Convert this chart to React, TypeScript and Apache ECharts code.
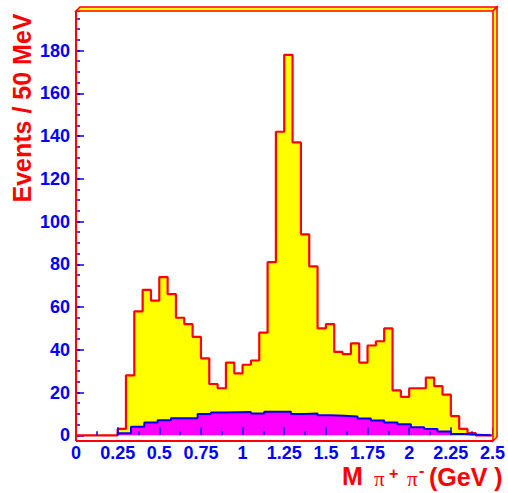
import React, { useEffect, useRef } from "react";
import * as echarts from "echarts";

// ---- data ----
const dataBinStart = 0;
const dataBinWidth = 0.05;
// Events / 50 MeV, bins from 0.00 to 2.50 GeV
const dataCounts = [
  0, 0, 0, 0, 0,
  3, 28, 58, 68, 63, 74, 66, 55, 52, 46,
  36, 24, 22, 34, 29, 33, 35, 48, 81, 142,
  178, 137, 94, 79, 50, 52, 39, 38, 43, 34,
  42, 44, 50, 21, 18, 22, 22, 27, 23, 19,
  9, 3, 1, 0, 0,
];
const bkgBinStart = 0.25;
const bkgBinWidth = 0.08;
const bkgValues = [
  1, 4, 6, 7, 8, 8, 10, 10.7, 10.8, 10.9, 10.2, 11, 11, 10,
  10.2, 9.4, 9.1, 8.8, 7.9, 6.9, 6, 5.2, 3.8, 2.9, 1.8, 0.6, 0.3, 0,
];
const xMin = 0;
const xMax = 2.5;
const xStep = 0.25;
const yMin = 0;
const yMax = 198.5;
const yStep = 20;
const yMinorStep = 5;

const FONT = "'Liberation Sans', Arial, Helvetica, sans-serif";
const SERIF = "'Liberation Serif', 'Times New Roman', serif";
const RED = "#ff0000";
const BLUE = "#0000ff";
const YELLOW = "#ffff00";
const MAGENTA = "#ff00ff";

function stepPoints(start: number, width: number, values: number[], leadZero: boolean) {
  const pts: number[][] = [];
  if (leadZero) pts.push([start, 0]);
  values.forEach((v, i) => pts.push([+(start + i * width).toFixed(4), v]));
  pts.push([+(start + values.length * width).toFixed(4), 0]);
  return pts;
}

export default function App() {
  const ref = useRef<HTMLDivElement>(null);
  useEffect(() => {
    document.body.style.margin = "0";
    if (!ref.current) return;
    const chart = echarts.init(ref.current, undefined, { renderer: "svg" });
    const tickStyle = { color: BLUE, width: 1.5 };
    chart.setOption({
      animation: false,
      grid: { left: 76, right: 15, top: 11, bottom: 57.7, show: false },
      xAxis: [
        {
          type: "value",
          min: xMin,
          max: xMax,
          interval: xStep,
          offset: 5.7,
          z: 5,
          axisLine: { show: false },
          splitLine: { show: false },
          axisTick: { show: true, inside: true, length: 8, lineStyle: tickStyle },
          minorTick: { show: true, splitNumber: 2, length: 4, lineStyle: tickStyle },
          axisLabel: {
            color: BLUE,
            fontSize: 18,
            lineHeight: 15,
            fontWeight: "bold",
            fontFamily: FONT,
            margin: 4,
          },
        },
      ],
      yAxis: [
        {
          type: "value",
          min: yMin,
          max: yMax,
          interval: yStep,
          position: "left",
          axisLine: { show: false },
          splitLine: { show: false },
          axisTick: { show: true, inside: true, length: 8, lineStyle: tickStyle },
          axisLabel: {
            color: BLUE,
            fontSize: 18,
            fontWeight: "bold",
            fontFamily: FONT,
            margin: 6,
            showMaxLabel: false,
          },
        },
        {
          type: "value",
          min: yMin,
          max: yMax,
          interval: yMinorStep,
          position: "left",
          offset: 0,
          axisLine: { show: false },
          splitLine: { show: false },
          axisTick: { show: true, inside: true, length: 4, lineStyle: tickStyle },
          axisLabel: { show: false },
        },
      ],
      series: [
        {
          type: "line",
          step: "end",
          symbol: "none",
          clip: false,
          data: stepPoints(dataBinStart, dataBinWidth, dataCounts, false),
          lineStyle: { color: RED, width: 2.2 },
          areaStyle: { color: YELLOW, opacity: 1 },
          z: 2,
        },
        {
          type: "line",
          step: "end",
          symbol: "none",
          clip: false,
          data: stepPoints(bkgBinStart, bkgBinWidth, bkgValues, true),
          lineStyle: { color: BLUE, width: 2 },
          areaStyle: { color: MAGENTA, opacity: 1 },
          z: 3,
        },
      ],
      graphic: [
        // frame
        { type: "line", z: 100, shape: { x1: 76, y1: 11, x2: 76, y2: 441 }, style: { stroke: RED, lineWidth: 2 } },
        { type: "line", z: 100, shape: { x1: 76, y1: 441, x2: 493, y2: 441 }, style: { stroke: RED, lineWidth: 2 } },
        {
          type: "polygon",
          z: 100,
          shape: { points: [[76, 11], [80, 7], [497, 7], [493, 11]] },
          style: { fill: YELLOW, stroke: RED, lineWidth: 1.5 },
        },
        {
          type: "polygon",
          z: 100,
          shape: { points: [[493, 11], [497, 7], [497, 437], [493, 441]] },
          style: { fill: YELLOW, stroke: RED, lineWidth: 1.5 },
        },
        // y title
        {
          type: "text",
          z: 100,
          x: 22,
          y: 108,
          rotation: Math.PI / 2,
          style: {
            text: "Events / 50 MeV",
            fill: RED,
            font: `bold 25px ${FONT}`,
            align: "center",
            verticalAlign: "middle",
          },
        },
        // x title
        { type: "text", z: 100, x: 342, y: 476, style: { text: "M", fill: RED, font: `bold 25px ${FONT}`, align: "left", verticalAlign: "middle" } },
        { type: "text", z: 100, x: 374, y: 479, style: { text: "π", fill: RED, font: `21px ${SERIF}`, align: "left", verticalAlign: "middle" } },
        { type: "text", z: 100, x: 389, y: 473, style: { text: "+", fill: RED, font: `bold 16px ${FONT}`, align: "left", verticalAlign: "middle" } },
        { type: "text", z: 100, x: 407, y: 479, style: { text: "π", fill: RED, font: `21px ${SERIF}`, align: "left", verticalAlign: "middle" } },
        { type: "text", z: 100, x: 419, y: 470, style: { text: "-", fill: RED, font: `bold 16px ${FONT}`, align: "left", verticalAlign: "middle" } },
        { type: "text", z: 100, x: 429, y: 476.5, style: { text: "(GeV )", fill: RED, font: `bold 25px ${FONT}`, align: "left", verticalAlign: "middle" } },
      ],
    });
    return () => chart.dispose();
  }, []);
  return (
    <div
      ref={ref}
      style={{ position: "fixed", left: 0, top: 0, width: 508, height: 493, background: "#ffffff" }}
    />
  );
}
